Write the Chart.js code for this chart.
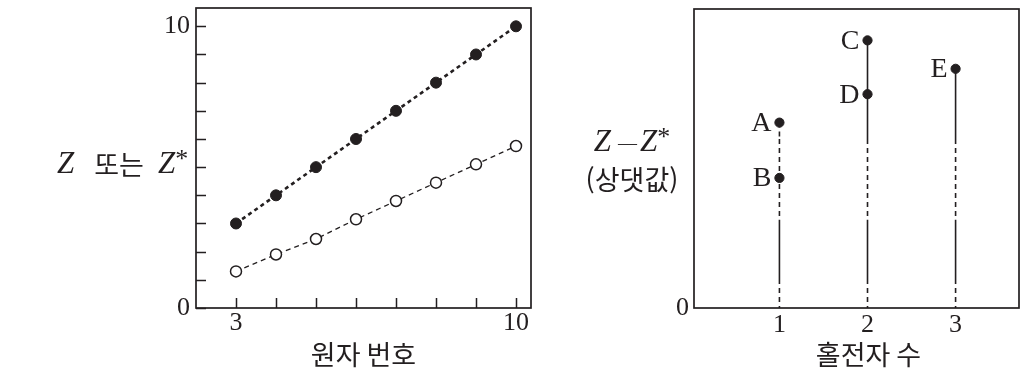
<!DOCTYPE html>
<html lang="ko">
<head>
<meta charset="utf-8">
<script src="https://cdn.jsdelivr.net/npm/chart.js@4.4.0/dist/chart.umd.min.js"></script>
<style>
  body { margin: 0; background: #fff; width: 1027px; height: 376px; overflow: hidden; position: relative; }
  canvas { position: absolute; top: 0; }
  #zChart { left: 0; }
  #diffChart { left: 560px; }
</style>
</head>
<body>
<canvas id="zChart" width="545" height="376"></canvas>
<canvas id="diffChart" width="467" height="376"></canvas>
<script>
// left panel: Z and Z* against atomic number
const atomicNumbers = [3, 4, 5, 6, 7, 8, 9, 10];
const zValues = [3, 4, 5, 6, 7, 8, 9, 10];
const zStarValues = [1.3, 1.9, 2.45, 3.15, 3.8, 4.45, 5.1, 5.75];
const zAxisTicks = [0, 1, 2, 3, 4, 5, 6, 7, 8, 9, 10];

// right panel: Z - Z* (relative) against number of unpaired electrons
const elementNames = ['A', 'B', 'C', 'D', 'E'];
const unpairedCounts = [1, 1, 2, 2, 3];
const relativeDiff = [6.2, 4.35, 8.95, 7.15, 8.0];
const unpairedTicks = [1, 2, 3];
const stemX = [1, 2, 3];
const stemTop = [6.2, 8.95, 8.0];
const stemBreaks = [5.65, 2.95, 0.97, 0];
const stemStyles = [
  ['dash', 'dash', 'solid', 'dash'],
  ['solid', 'dash', 'solid', 'dash'],
  ['solid', 'dash', 'solid', 'dash']
];

const ink = '#231f20';
const serif = "'Liberation Serif', 'Times New Roman', serif";
const sans = "'Noto Sans CJK KR', 'Noto Sans', sans-serif";

function drawRuns(ctx, runs, x, y, align) {
  ctx.save();
  ctx.textBaseline = 'middle';
  ctx.fillStyle = ink;
  let total = 0;
  runs.forEach(r => { ctx.font = r[1]; total += ctx.measureText(r[0]).width + (r[3] || 0); });
  let cx = align === 'center' ? x - total / 2 : x;
  runs.forEach(r => {
    ctx.font = r[1];
    ctx.fillText(r[0], cx, y + (r[2] || 0));
    cx += ctx.measureText(r[0]).width + (r[3] || 0);
  });
  ctx.restore();
}

// box round the plot area, plus inward tick marks where asked
const frame = {
  id: 'frame',
  afterDraw(chart, args, opts) {
    const { ctx, chartArea: a, scales } = chart;
    ctx.save();
    ctx.strokeStyle = ink;
    if (opts.innerTicks) {
      ctx.lineWidth = 1.5;
      ctx.beginPath();
      scales.y.ticks.forEach(t => {
        const y = Math.round(scales.y.getPixelForValue(t.value)) + 0.5;
        ctx.moveTo(a.left, y);
        ctx.lineTo(a.left + 10, y);
      });
      scales.x.ticks.forEach(t => {
        const x = Math.round(scales.x.getPixelForValue(t.value)) + 0.5;
        ctx.moveTo(x, a.bottom);
        ctx.lineTo(x, a.bottom - 10);
      });
      ctx.stroke();
    }
    ctx.lineWidth = 1.7;
    ctx.strokeRect(a.left, a.top, a.right - a.left, a.bottom - a.top);
    ctx.restore();
  }
};

function fixBox(width, height) {
  return scale => {
    if (width) scale.width = width;
    if (height) scale.height = height;
    scale.paddingTop = 0;
    scale.paddingBottom = 0;
    scale.paddingLeft = 0;
    scale.paddingRight = 0;
  };
}

const leftTexts = {
  id: 'leftTexts',
  afterDraw(chart) {
    const { ctx, chartArea: a } = chart;
    drawRuns(ctx, [['원자 번호', '27px ' + sans]], (a.left + a.right) / 2, a.bottom + 47, 'center');
    drawRuns(ctx, [
      ['Z', 'italic 31px ' + serif, 0, 20],
      ['또는', '27px ' + sans, 0, 14],
      ['Z', 'italic 31px ' + serif],
      ['*', '26px ' + serif, -5]
    ], a.left - 139, a.top + 157, 'left');
  }
};

const rightTexts = {
  id: 'rightTexts',
  afterDraw(chart) {
    const { ctx, chartArea: a } = chart;
    const xs = chart.scales.x;
    drawRuns(ctx, [['홀전자 수', '27px ' + sans]], xs.getPixelForValue(2) + 1, a.bottom + 47, 'center');
    drawRuns(ctx, [
      ['Z', 'italic 31px ' + serif, 0, 7],
      ['—', '19px ' + serif, 1, 3],
      ['Z', 'italic 31px ' + serif],
      ['*', '26px ' + serif, -5]
    ], a.left - 62, a.top + 134, 'center');
    drawRuns(ctx, [['(상댓값)', '27px ' + sans]], a.left - 62, a.top + 171, 'center');

    const meta = chart.getDatasetMeta(0);
    ctx.save();
    ctx.font = '28px ' + serif;
    ctx.fillStyle = ink;
    ctx.textAlign = 'right';
    ctx.textBaseline = 'middle';
    meta.data.forEach((pt, i) => {
      ctx.fillText(elementNames[i], pt.x - 8, pt.y + 1);
    });
    ctx.restore();
  }
};

new Chart(document.getElementById('zChart'), {
  type: 'line',
  data: {
    labels: atomicNumbers,
    datasets: [
      {
        label: 'Z',
        data: atomicNumbers.map((n, i) => ({ x: n, y: zValues[i] })),
        borderColor: ink,
        borderWidth: 2.6,
        borderDash: [4, 3.5],
        pointRadius: 5.5,
        pointBackgroundColor: ink,
        pointBorderColor: ink,
        pointBorderWidth: 1
      },
      {
        label: 'Z*',
        data: atomicNumbers.map((n, i) => ({ x: n, y: zStarValues[i] })),
        borderColor: ink,
        borderWidth: 1.3,
        borderDash: [5, 4],
        pointRadius: 5.5,
        pointBackgroundColor: '#fff',
        pointBorderColor: ink,
        pointBorderWidth: 1.5
      }
    ]
  },
  options: {
    responsive: false,
    animation: false,
    layout: { padding: { top: 8, right: 14, left: 0, bottom: 0 } },
    plugins: { legend: { display: false }, tooltip: { enabled: false }, frame: { innerTicks: true } },
    scales: {
      x: {
        type: 'linear',
        min: 2,
        max: 10.375,
        afterBuildTicks: s => { s.ticks = atomicNumbers.map(v => ({ value: v })); },
        afterFit: fixBox(0, 68),
        border: { display: false },
        grid: { display: false, drawTicks: false },
        ticks: {
          autoSkip: false,
          maxRotation: 0,
          padding: 0,
          color: ink,
          font: { family: serif, size: 26 },
          callback: (v, i, t) => (i === 0 || i === t.length - 1) ? v : ''
        }
      },
      y: {
        min: 0,
        max: 10.65,
        afterBuildTicks: s => { s.ticks = zAxisTicks.map(v => ({ value: v })); },
        afterFit: fixBox(196, 0),
        border: { display: false },
        grid: { display: false, drawTicks: false },
        ticks: {
          autoSkip: false,
          padding: 6,
          color: ink,
          font: { family: serif, size: 26 },
          callback: (v, i, t) => (i === 0 || i === t.length - 1) ? v : ''
        }
      }
    }
  },
  plugins: [frame, leftTexts]
});

// one small line dataset per band of each stem, dashed or solid
const stemSets = [];
stemX.forEach((x, k) => {
  const levels = [stemTop[k], ...stemBreaks];
  stemStyles[k].forEach((style, j) => {
    stemSets.push({
      label: 'stem' + x + '-' + j,
      data: [{ x: x, y: levels[j] }, { x: x, y: levels[j + 1] }],
      borderColor: ink,
      borderWidth: 1.6,
      borderDash: style === 'dash' ? [5, 4] : [],
      pointRadius: 0
    });
  });
});

new Chart(document.getElementById('diffChart'), {
  type: 'line',
  data: {
    datasets: [
      {
        label: 'Z-Z*',
        data: unpairedCounts.map((n, i) => ({ x: n, y: relativeDiff[i] })),
        showLine: false,
        pointRadius: 4.6,
        pointBackgroundColor: ink,
        pointBorderColor: ink,
        pointBorderWidth: 1
      },
      ...stemSets
    ]
  },
  options: {
    responsive: false,
    animation: false,
    layout: { padding: { top: 9, right: 8, left: 0, bottom: 0 } },
    plugins: { legend: { display: false }, tooltip: { enabled: false }, frame: { innerTicks: false } },
    scales: {
      x: {
        type: 'linear',
        min: 0.03,
        max: 3.72,
        afterBuildTicks: s => { s.ticks = unpairedTicks.map(v => ({ value: v })); },
        afterFit: fixBox(0, 68),
        border: { display: false },
        grid: { display: false, drawTicks: false },
        ticks: { autoSkip: false, maxRotation: 0, padding: 2, color: ink, font: { family: serif, size: 26 } }
      },
      y: {
        min: 0,
        max: 10,
        afterBuildTicks: s => { s.ticks = [{ value: 0 }]; },
        afterFit: fixBox(134, 0),
        border: { display: false },
        grid: { display: false, drawTicks: false },
        ticks: { padding: 5, color: ink, font: { family: serif, size: 26 } }
      }
    }
  },
  plugins: [frame, rightTexts]
});
</script>
</body>
</html>
